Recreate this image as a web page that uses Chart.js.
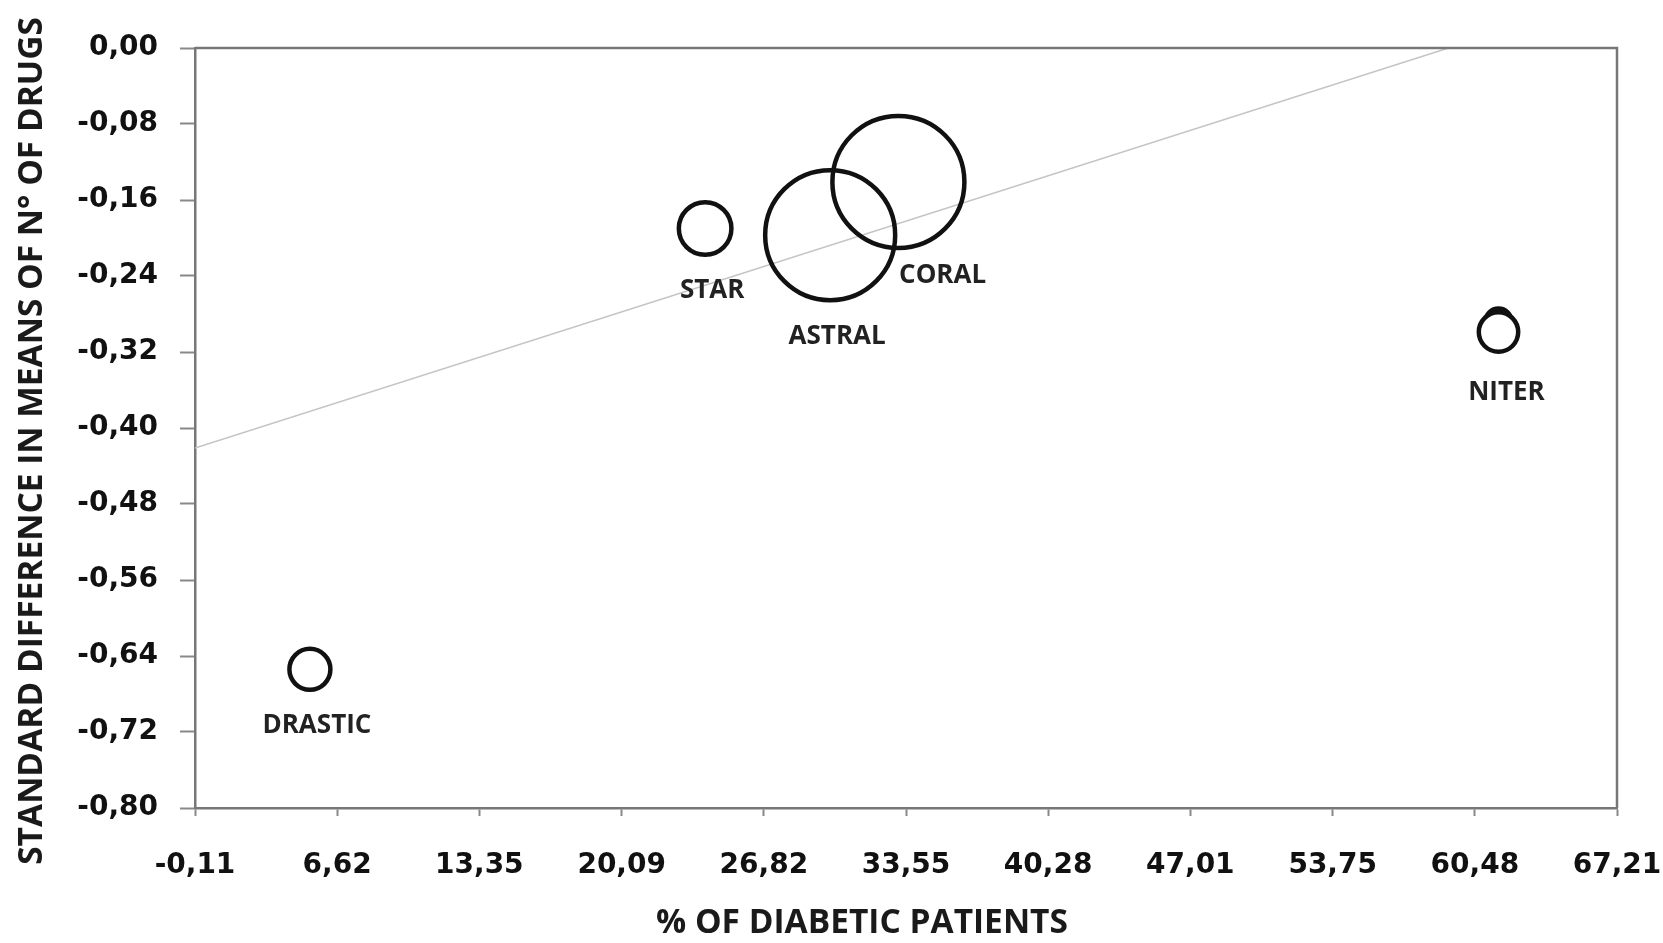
<!DOCTYPE html>
<html>
<head>
<meta charset="utf-8">
<script src="https://cdn.jsdelivr.net/npm/chart.js@4"></script>
<style>
html, body { margin: 0; padding: 0; background: #fff; }
#wrap { width: 1663px; height: 943px; }
</style>
</head>
<body>
<div id="wrap"><canvas id="myChart"></canvas></div>
<script>
// centros e valores
let centros = ['DRASTIC', 'STAR', 'ASTRAL', 'CORAL', '', 'NITER'];
let pctDiabeticos = [5.33, 24.04, 29.96, 33.19, 61.6, 61.6];
let difPadrao = [-0.654, -0.190, -0.197, -0.141, -0.288, -0.299];
let tamanhos = [20.5, 26.3, 65, 66, 13, 19.7];

// reta de tendência
let retaX = [-0.11, 59.23];
let retaY = [-0.421, 0];

let ticksX = [-0.11, 6.62, 13.35, 20.09, 26.82, 33.55, 40.28, 47.01, 53.75, 60.48, 67.21];
let ticksY = [0, -0.08, -0.16, -0.24, -0.32, -0.40, -0.48, -0.56, -0.64, -0.72, -0.80];

let tituloX = '% OF DIABETIC PATIENTS';
let tituloY = 'STANDARD DIFFERENCE IN MEANS OF N° OF DRUGS';

let virgula = v => Number(v).toFixed(2).replace('.', ',');

let bolhas = centros.map((c, i) => ({ x: pctDiabeticos[i], y: difPadrao[i], r: tamanhos[i] }));
let reta = retaX.map((x, i) => ({ x: x, y: retaY[i] }));

let extras = {
    id: 'extras',
    afterDatasetsDraw(chart) {
        let c = chart.ctx;
        let a = chart.chartArea;
        // moldura de cima e da direita
        c.save();
        c.strokeStyle = '#777';
        c.lineWidth = 2.5;
        c.beginPath();
        c.moveTo(a.left, a.top);
        c.lineTo(a.right, a.top);
        c.lineTo(a.right, a.bottom);
        c.stroke();

        // nomes dos centros
        c.fillStyle = '#222';
        c.font = 'bold 26px "Open Sans"';
        c.textAlign = 'center';
        c.textBaseline = 'middle';
        let meta = chart.getDatasetMeta(1);
        meta.data.forEach((p, i) => {
            let nome = centros[i];
            if (!nome) return;
            let r = tamanhos[i];
            if (nome === 'CORAL') {
                c.fillText(nome, p.x + r * 0.67, p.y + r * 1.42);
            } else if (nome === 'NITER') {
                c.fillText(nome, p.x + 8, p.y + r + 41);
            } else {
                c.fillText(nome, p.x + 7, p.y + r + 36);
            }
        });

        // títulos dos eixos
        c.fillStyle = '#1a1a1a';
        c.font = 'bold 33.5px "Open Sans"';
        c.fillText(tituloX, 862, 923);
        c.translate(32, 441);
        c.rotate(-Math.PI / 2);
        c.fillText(tituloY, 0, 0);
        c.restore();
    }
};

let ctx = document.getElementById('myChart');

let meuGrafico = new Chart(ctx, {
    type: 'bubble',
    data: {
        datasets: [{
            type: 'scatter',
            data: reta,
            showLine: true,
            borderColor: '#c4c4c4',
            borderWidth: 1.5,
            pointRadius: 0,
            order: 2
        }, {
            data: bolhas,
            backgroundColor: centros.map(c => c === 'NITER' ? '#fff' : 'rgba(0,0,0,0)'),
            borderColor: '#111',
            borderWidth: 4.5,
            order: 1
        }]
    },
    options: {
        responsive: true,
        maintainAspectRatio: false,
        animation: false,
        events: [],
        layout: { autoPadding: false, padding: { top: 48, right: 46, left: 0, bottom: 0 } },
        plugins: { legend: { display: false }, tooltip: { enabled: false } },
        scales: {
            x: {
                type: 'linear',
                min: -0.11,
                max: 67.21,
                afterBuildTicks: s => { s.ticks = ticksX.map(v => ({ value: v })); },
                afterFit: s => { s.height = 135; s.paddingLeft = 0; s.paddingRight = 0; },
                grid: { drawOnChartArea: false, color: '#888', tickLength: 8, tickWidth: 2 },
                border: { color: '#777', width: 2.5 },
                ticks: {
                    autoSkip: false,
                    maxRotation: 0,
                    padding: 33,
                    color: '#111',
                    font: { family: 'DejaVu Sans', weight: 'bold', size: 28 },
                    callback: v => virgula(v)
                }
            },
            y: {
                type: 'linear',
                min: -0.8,
                max: 0,
                afterBuildTicks: s => { s.ticks = ticksY.map(v => ({ value: v })); },
                afterFit: s => { s.width = 195; s.paddingTop = 0; s.paddingBottom = 0; },
                grid: { drawOnChartArea: false, color: '#888', tickLength: 15, tickWidth: 2 },
                border: { color: '#777', width: 2.5 },
                ticks: {
                    autoSkip: false,
                    padding: 22,
                    color: '#111',
                    font: { family: 'DejaVu Sans', weight: 'bold', size: 28 },
                    callback: v => virgula(v)
                }
            }
        }
    },
    plugins: [extras]
});
</script>
</body>
</html>
